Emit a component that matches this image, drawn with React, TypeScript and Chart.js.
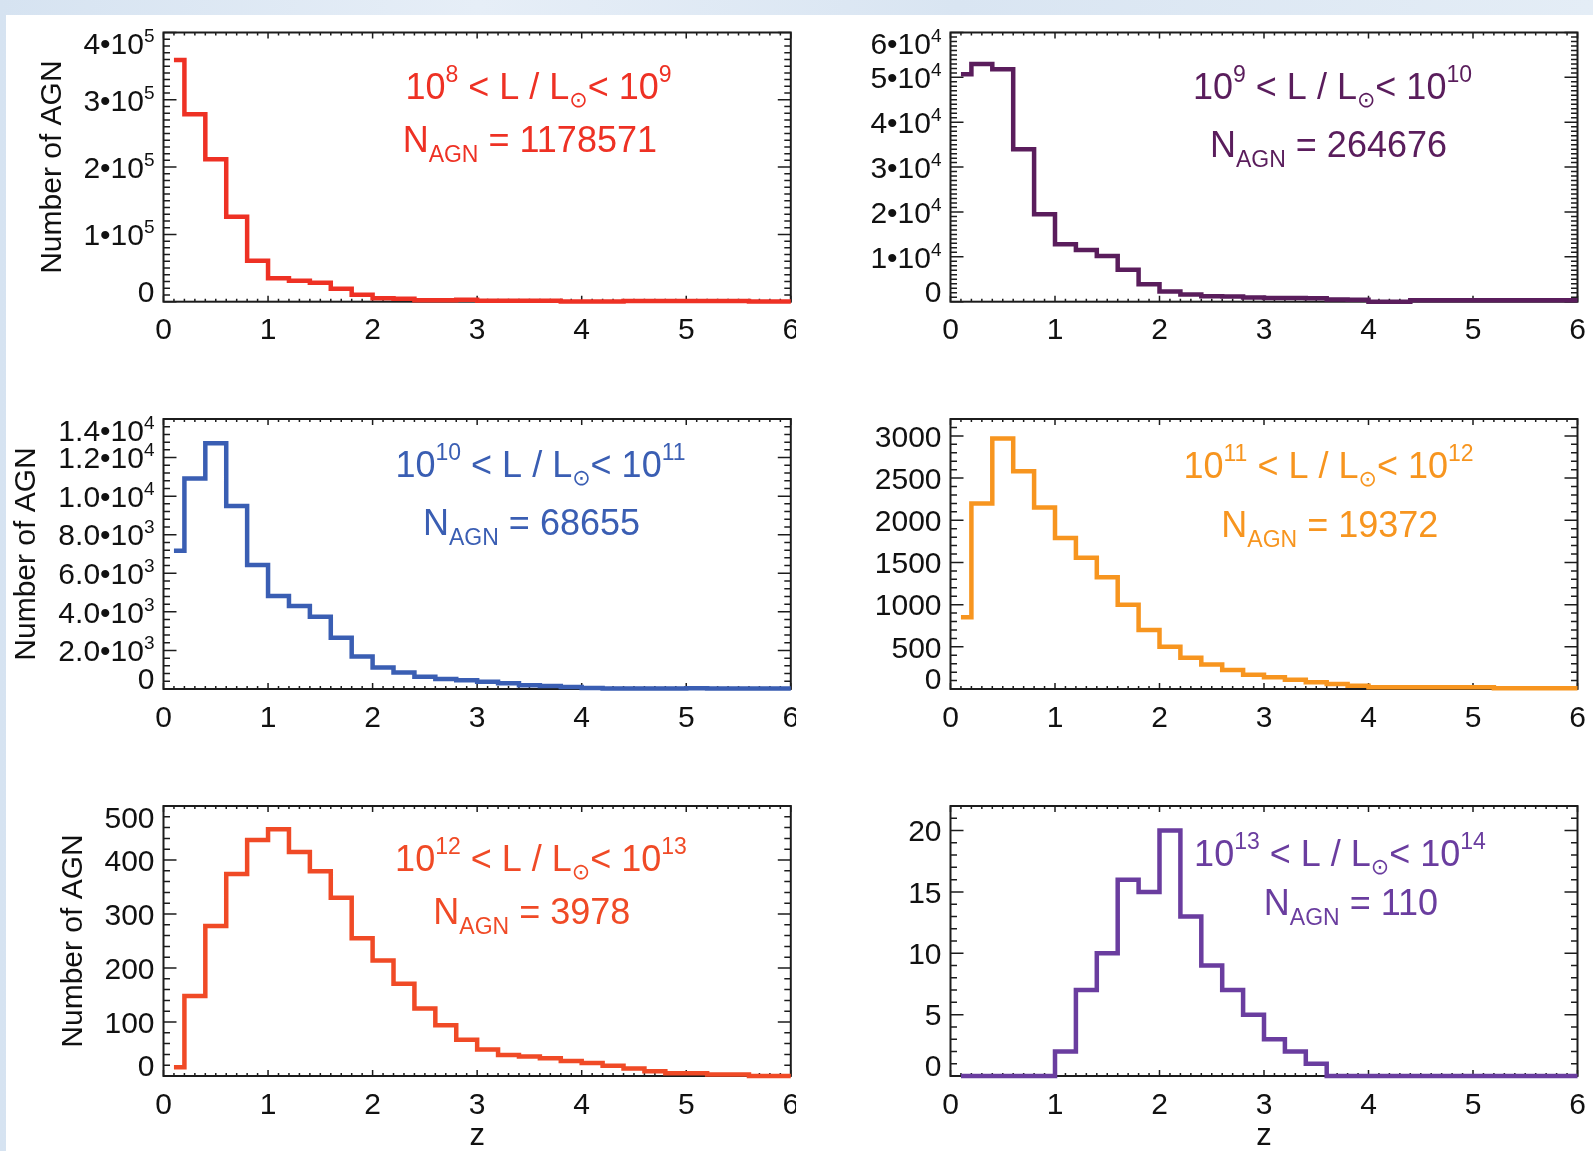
import React, { useEffect, useRef } from "react";
import { Chart, registerables } from "chart.js";

Chart.register(...registerables);

// ---------- data ----------
// left edge of each drawn histogram step (the first bin is drawn from its centre, z = 0.1)
const zBinStarts = [0.1, 0.2, 0.4, 0.6, 0.8, 1.0, 1.2, 1.4, 1.6, 1.8, 2.0, 2.2, 2.4, 2.6, 2.8, 3.0, 3.2, 3.4, 3.6, 3.8, 4.0, 4.2, 4.4, 4.6, 4.8, 5.0, 5.2, 5.4, 5.6, 5.8];
const zEnd = 6.0;
const zTickValues = [0, 1, 2, 3, 4, 5, 6];
const zTickLabels = ["0", "1", "2", "3", "4", "5", "6"];

const countsL8to9 = [359000, 278600, 211700, 126400, 61000, 34700, 31200, 28300, 19300, 10400, 5000, 4500, 2000, 2000, 3000, 1500, 1500, 1500, 1500, 300, 300, 300, 1000, 1000, 1000, 1000, 1000, 1000, 200, 200];
const countsL9to10 = [50700, 53000, 51800, 34000, 19500, 12800, 11500, 10200, 7100, 3900, 2300, 1600, 1200, 1150, 950, 800, 800, 750, 500, 450, 0, 0, 300, 300, 300, 300, 300, 300, 300, 300];
const countsL10to11 = [7170, 10920, 12740, 9490, 6430, 4820, 4300, 3750, 2660, 1680, 1120, 850, 640, 520, 450, 380, 300, 200, 150, 100, 50, 20, 20, 20, 20, 40, 20, 20, 20, 20];
const countsL11to12 = [850, 2200, 2970, 2580, 2150, 1790, 1555, 1325, 1000, 700, 500, 370, 290, 225, 170, 140, 110, 80, 60, 40, 20, 20, 20, 20, 20, 20, 10, 10, 10, 10];
const countsL12to13 = [16, 148, 278, 374, 437, 457, 415, 379, 330, 255, 214, 171, 125, 94, 67, 49, 39, 36, 33, 28, 24, 19, 14, 9, 5, 5, 3, 3, 0, 0];
const countsL13to14 = [0, 0, 0, 0, 0, 2, 7, 10, 16, 15, 20, 13, 9, 7, 5, 3, 2, 1, 0, 0, 0, 0, 0, 0, 0, 0, 0, 0, 0, 0];

const yTicksL8to9 = [0, 100000, 200000, 300000, 400000];
const yLabelsL8to9 = ["0", "1•10^5", "2•10^5", "3•10^5", "4•10^5"];
const yTicksL9to10 = [0, 10000, 20000, 30000, 40000, 50000, 60000];
const yLabelsL9to10 = ["0", "1•10^4", "2•10^4", "3•10^4", "4•10^4", "5•10^4", "6•10^4"];
const yTicksL10to11 = [0, 2000, 4000, 6000, 8000, 10000, 12000, 14000];
const yLabelsL10to11 = ["0", "2.0•10^3", "4.0•10^3", "6.0•10^3", "8.0•10^3", "1.0•10^4", "1.2•10^4", "1.4•10^4"];
const yTicksL11to12 = [0, 500, 1000, 1500, 2000, 2500, 3000];
const yLabelsL11to12 = ["0", "500", "1000", "1500", "2000", "2500", "3000"];
const yTicksL12to13 = [0, 100, 200, 300, 400, 500];
const yLabelsL12to13 = ["0", "100", "200", "300", "400", "500"];
const yTicksL13to14 = [0, 5, 10, 15, 20];
const yLabelsL13to14 = ["0", "5", "10", "15", "20"];

const lumLow = ["8", "9", "10", "11", "12", "13"];
const lumHigh = ["9", "10", "11", "12", "13", "14"];
const nAgn = ["1178571", "264676", "68655", "19372", "3978", "110"];

const yAxisTitle = "Number of AGN";
const xAxisTitle = "z";

// ---------- layout / style ----------
const FONT = '"Liberation Sans", Arial, Helvetica, sans-serif';
const AXIS = "#1c1c1c";
const COLS = [
  { x: 0, w: 796, left: 163.5, right: 790.8 },
  { x: 796, w: 797, left: 950.5, right: 1577.5 },
];
const ROWS = [
  { y: 0, h: 385, top: 32.5, bottom: 301.7 },
  { y: 385, h: 385, top: 419, bottom: 689 },
  { y: 770, h: 381, top: 806, bottom: 1076 },
];

const panels = [
  { counts: countsL8to9, yTicks: yTicksL8to9, yLabels: yLabelsL8to9, yMax: 400000, yMinor: 10000, color: "#ee3124", idx: 0, col: 0, row: 0, yTitleOff: 102.5, ann: [375, 66, 366.3, 119.5] },
  { counts: countsL9to10, yTicks: yTicksL9to10, yLabels: yLabelsL9to10, yMax: 60000, yMinor: 1000, color: "#5a1d5c", idx: 1, col: 1, row: 0, yTitleOff: 0, ann: [382, 66, 378, 124.5] },
  { counts: countsL10to11, yTicks: yTicksL10to11, yLabels: yLabelsL10to11, yMax: 14000, yMinor: 400, color: "#3a5eb3", idx: 2, col: 0, row: 1, yTitleOff: 128.5, ann: [377, 58, 368, 116] },
  { counts: countsL11to12, yTicks: yTicksL11to12, yLabels: yLabelsL11to12, yMax: 3200, yMinor: 100, color: "#f7951f", idx: 3, col: 1, row: 1, yTitleOff: 0, ann: [378, 58.5, 379.3, 117.5] },
  { counts: countsL12to13, yTicks: yTicksL12to13, yLabels: yLabelsL12to13, yMax: 500, yMinor: 20, color: "#f04a26", idx: 4, col: 0, row: 2, yTitleOff: 81.5, ann: [377.5, 65, 368.3, 118.3] },
  { counts: countsL13to14, yTicks: yTicksL13to14, yLabels: yLabelsL13to14, yMax: 22, yMinor: 1, color: "#6a3d9f", idx: 5, col: 1, row: 2, yTitleOff: 0, ann: [389.5, 60, 400.5, 109] },
];

type Seg = { t: string; k: number };

function segFont(k: number) {
  if (k === 0) return `36px ${FONT}`;
  if (k === 3) return `22px "DejaVu Sans", sans-serif`;
  return `23px ${FONT}`;
}

function drawRich(ctx: any, segs: Seg[], cx: number, base: number) {
  const widths = segs.map((s) => {
    ctx.font = segFont(s.k);
    return ctx.measureText(s.t).width;
  });
  const total = widths.reduce((a, b) => a + b, 0);
  let x = cx - total / 2;
  ctx.textAlign = "left";
  ctx.textBaseline = "alphabetic";
  segs.forEach((s, i) => {
    ctx.font = segFont(s.k);
    const dy = s.k === 1 ? -17 : s.k === 2 ? 10 : s.k === 3 ? 8 : 0;
    ctx.fillText(s.t, x, base + dy);
    x += widths[i];
  });
}

function makeDecor(p: any) {
  return {
    id: "decor" + p.idx,
    beforeDatasetsDraw(chart: any) {
      const { ctx, chartArea: a, scales } = chart;
      const xs = scales.x;
      const ys = scales.y;
      ctx.save();
      ctx.strokeStyle = AXIS;
      ctx.lineWidth = 1.5;
      ctx.beginPath();
      for (let k = 0; k <= 60; k++) {
        const px = xs.getPixelForValue(k / 10);
        const len = k % 10 === 0 ? 6 : 3;
        ctx.moveTo(px, a.bottom);
        ctx.lineTo(px, a.bottom - len);
        ctx.moveTo(px, a.top);
        ctx.lineTo(px, a.top + len);
      }
      const nMinor = Math.round(p.yMax / p.yMinor);
      for (let k = 0; k <= nMinor; k++) {
        const py = ys.getPixelForValue(k * p.yMinor);
        ctx.moveTo(a.left, py);
        ctx.lineTo(a.left + 6.5, py);
        ctx.moveTo(a.right, py);
        ctx.lineTo(a.right - 6.5, py);
      }
      p.yTicks.forEach((v: number) => {
        const py = ys.getPixelForValue(v);
        ctx.moveTo(a.left, py);
        ctx.lineTo(a.left + 13, py);
        ctx.moveTo(a.right, py);
        ctx.lineTo(a.right - 13, py);
      });
      ctx.stroke();
      ctx.lineWidth = 2;
      ctx.strokeRect(a.left, a.top, a.right - a.left, a.bottom - a.top);
      ctx.restore();
    },
    afterDraw(chart: any) {
      const { ctx, chartArea: a, scales } = chart;
      const xs = scales.x;
      const ys = scales.y;
      ctx.save();
      ctx.fillStyle = "#111";
      ctx.textBaseline = "alphabetic";
      const mainF = `30px ${FONT}`;
      const supF = `19px ${FONT}`;
      const cap = 21.5;
      // y tick labels
      p.yTicks.forEach((v: number, i: number) => {
        const [b, e] = p.yLabels[i].split("^");
        ctx.font = mainF;
        const wb = ctx.measureText(b).width;
        let we = 0;
        if (e) {
          ctx.font = supF;
          we = ctx.measureText(e).width;
        }
        const right = a.left - 9;
        let cy = ys.getPixelForValue(v);
        cy = Math.max(a.top + cap / 2, Math.min(a.bottom - cap / 2, cy));
        const base = cy + cap / 2;
        ctx.textAlign = "left";
        ctx.font = mainF;
        ctx.fillText(b, right - we - wb, base);
        if (e) {
          ctx.font = supF;
          ctx.fillText(e, right - we, base - 12);
        }
      });
      // x tick labels
      ctx.font = mainF;
      ctx.textAlign = "center";
      zTickValues.forEach((v, i) => {
        ctx.fillText(zTickLabels[i], xs.getPixelForValue(v), a.bottom + 37.5);
      });
      if (p.row === 2) {
        ctx.font = `31px ${FONT}`;
        ctx.fillText(xAxisTitle, xs.getPixelForValue(3), a.bottom + 69);
      }
      if (p.col === 0) {
        ctx.save();
        ctx.translate(a.left - p.yTitleOff, (a.top + a.bottom) / 2);
        ctx.rotate(-Math.PI / 2);
        ctx.font = `30px ${FONT}`;
        ctx.textAlign = "center";
        ctx.fillText(yAxisTitle, 0, 0);
        ctx.restore();
      }
      // annotation
      ctx.fillStyle = p.color;
      const line1: Seg[] = [
        { t: "10", k: 0 },
        { t: lumLow[p.idx], k: 1 },
        { t: " < L / L", k: 0 },
        { t: "\u2299", k: 3 },
        { t: "< 10", k: 0 },
        { t: lumHigh[p.idx], k: 1 },
      ];
      const line2: Seg[] = [
        { t: "N", k: 0 },
        { t: "AGN", k: 2 },
        { t: " = " + nAgn[p.idx], k: 0 },
      ];
      drawRich(ctx, line1, a.left + p.ann[0], a.top + p.ann[1]);
      drawRich(ctx, line2, a.left + p.ann[2], a.top + p.ann[3]);
      ctx.restore();
    },
  };
}

function Panel({ p }: { p: any }) {
  const ref = useRef<HTMLCanvasElement | null>(null);
  const c = COLS[p.col];
  const r = ROWS[p.row];
  useEffect(() => {
    const cv = ref.current;
    if (!cv) return;
    const pts = zBinStarts.map((z, i) => ({ x: z, y: p.counts[i] }));
    pts.push({ x: zEnd, y: p.counts[p.counts.length - 1] });
    const chart = new Chart(cv, {
      type: "line",
      data: {
        datasets: [
          {
            data: pts,
            borderColor: p.color,
            borderWidth: 4.5,
            pointRadius: 0,
            stepped: "before",
            fill: false,
            clip: false,
            borderJoinStyle: "miter",
            borderCapStyle: "butt",
            tension: 0,
          } as any,
        ],
      },
      options: {
        animation: false,
        responsive: false,
        events: [],
        devicePixelRatio: 1,
        layout: {
          padding: {
            left: c.left - c.x,
            right: c.x + c.w - c.right,
            top: r.top - r.y,
            bottom: r.y + r.h - r.bottom,
          },
        },
        scales: {
          x: { type: "linear", min: 0, max: 6, display: false },
          y: { type: "linear", min: 0, max: p.yMax, display: false },
        },
        plugins: { legend: { display: false }, tooltip: { enabled: false } },
      } as any,
      plugins: [makeDecor(p)],
    });
    return () => chart.destroy();
  }, [p]);
  return (
    <canvas
      ref={ref}
      width={c.w}
      height={r.h}
      style={{ position: "absolute", left: c.x, top: r.y, width: c.w, height: r.h }}
    />
  );
}

export default function App() {
  return (
    <div
      style={{
        position: "absolute",
        left: 0,
        top: 0,
        width: 1593,
        height: 1151,
        overflow: "hidden",
        background: "linear-gradient(90deg, #d6e3f1, #e6eef7 30%, #d9e5f2 60%, #e4edf6)",
      }}
    >
      <div style={{ position: "absolute", left: 6, top: 15, right: 0, bottom: 0, background: "#ffffff" }} />
      {panels.map((p, i) => (
        <Panel key={i} p={p} />
      ))}
    </div>
  );
}
